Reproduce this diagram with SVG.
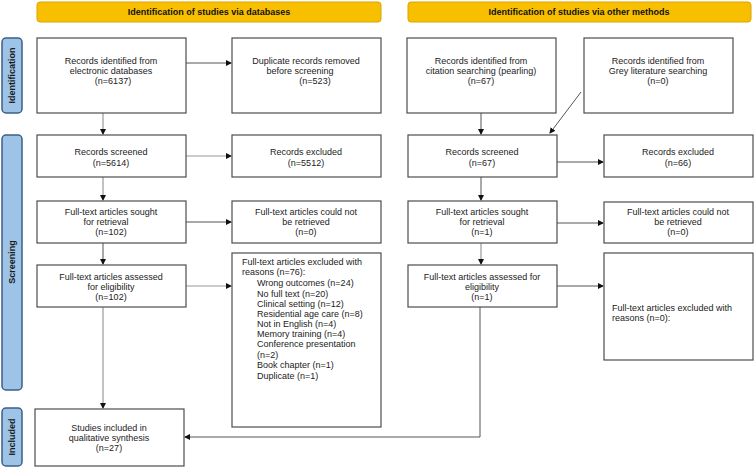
<svg xmlns="http://www.w3.org/2000/svg" width="754" height="469" viewBox="0 0 754 469">
<style>
  .box { fill: #ffffff; stroke: #4d4d4d; stroke-width: 1.2; }
  .hdr { fill: #f8bf00; stroke: #d9a400; stroke-width: 1; }
  .side { fill: #9dc3e6; stroke: #3b5f8a; stroke-width: 1.5; }
  .t { font-family: "Liberation Sans", Arial, sans-serif; font-size: 9px; fill: #222; }
  .c { text-anchor: middle; }
  .hb { font-family: "Liberation Sans", Arial, sans-serif; font-size: 9px; font-weight: bold; fill: #111; text-anchor: middle; }
  .sb { font-family: "Liberation Sans", Arial, sans-serif; font-size: 9px; font-weight: bold; fill: #1a1a1a; text-anchor: middle; }
  .ln { fill: none; stroke: #555; stroke-width: 1; }
  .lg { fill: none; stroke: #999; stroke-width: 1.2; }
</style>
<defs>
  <marker id="ah" markerWidth="6" markerHeight="6" refX="5" refY="3" orient="auto" markerUnits="userSpaceOnUse">
    <path d="M0,0 L6,3 L0,6 Z" fill="#111"/>
  </marker>
</defs>

<g id="header-databases">
  <rect class="hdr" x="37" y="2" width="344" height="20" rx="3"/>
  <text class="hb" x="209" y="15">Identification of studies via databases</text>
</g>
<g id="header-other">
  <rect class="hdr" x="408" y="2" width="343" height="20" rx="3"/>
  <text class="hb" x="579" y="15">Identification of studies via other methods</text>
</g>

<g id="side-identification">
  <rect class="side" x="2" y="38" width="20" height="75" rx="4"/>
  <text class="sb" transform="translate(15,75.5) rotate(-90)">Identification</text>
</g>
<g id="side-screening">
  <rect class="side" x="2" y="135" width="20" height="255" rx="4"/>
  <text class="sb" transform="translate(15,262) rotate(-90)">Screening</text>
</g>
<g id="side-included">
  <rect class="side" x="2" y="408" width="20" height="58" rx="4"/>
  <text class="sb" transform="translate(15,437) rotate(-90)">Included</text>
</g>

<g id="connectors">
  <line class="ln" x1="186" y1="63" x2="231" y2="63" marker-end="url(#ah)"/>
  <line class="lg" x1="103" y1="113" x2="103" y2="134" marker-end="url(#ah)"/>
  <line class="lg" x1="186" y1="156" x2="231" y2="156" marker-end="url(#ah)"/>
  <line class="lg" x1="103" y1="177" x2="103" y2="200" marker-end="url(#ah)"/>
  <line class="ln" x1="186" y1="222" x2="231" y2="222" marker-end="url(#ah)"/>
  <line class="ln" x1="103" y1="243" x2="103" y2="264" marker-end="url(#ah)"/>
  <line class="lg" x1="186" y1="286" x2="231" y2="286" marker-end="url(#ah)"/>
  <line class="lg" x1="103" y1="307" x2="103" y2="408" marker-end="url(#ah)"/>

  <line class="ln" x1="481" y1="113" x2="481" y2="134" marker-end="url(#ah)"/>
  <line class="ln" x1="581" y1="92" x2="550" y2="133" marker-end="url(#ah)"/>
  <line class="ln" x1="557" y1="162" x2="603" y2="162" marker-end="url(#ah)"/>
  <line class="ln" x1="481" y1="177" x2="481" y2="200" marker-end="url(#ah)"/>
  <line class="ln" x1="557" y1="223" x2="603" y2="223" marker-end="url(#ah)"/>
  <line class="lg" x1="481" y1="243" x2="481" y2="264" marker-end="url(#ah)"/>
  <line class="ln" x1="557" y1="286" x2="603" y2="286" marker-end="url(#ah)"/>
  <polyline class="ln" points="480,307 480,437 185,437" marker-end="url(#ah)"/>
</g>

<g id="n-db-identified">
  <rect class="box" x="37" y="38" width="149" height="75"/>
  <text class="t c" x="111" y="64">Records identified from</text>
  <text class="t c" x="111" y="74">electronic databases</text>
  <text class="t c" x="113" y="84">(n=6137)</text>
</g>
<g id="n-duplicates">
  <rect class="box" x="232" y="38" width="149" height="75"/>
  <text class="t c" x="306" y="64">Duplicate records removed</text>
  <text class="t c" x="300" y="74">before screening</text>
  <text class="t c" x="315" y="84">(n=523)</text>
</g>
<g id="n-citation">
  <rect class="box" x="407" y="38" width="149" height="75"/>
  <text class="t c" x="481" y="64">Records identified from</text>
  <text class="t c" x="481" y="74">citation searching (pearling)</text>
  <text class="t c" x="481" y="84">(n=67)</text>
</g>
<g id="n-grey">
  <rect class="box" x="584" y="38" width="149" height="75"/>
  <text class="t c" x="658" y="64">Records identified from</text>
  <text class="t c" x="658" y="74">Grey literature searching</text>
  <text class="t c" x="658" y="84">(n=0)</text>
</g>

<g id="n-db-screened">
  <rect class="box" x="37" y="135" width="149" height="42"/>
  <text class="t c" x="111" y="155">Records screened</text>
  <text class="t c" x="111" y="166">(n=5614)</text>
</g>
<g id="n-db-excluded">
  <rect class="box" x="232" y="135" width="149" height="42"/>
  <text class="t c" x="306" y="155">Records excluded</text>
  <text class="t c" x="306" y="166">(n=5512)</text>
</g>
<g id="n-db-sought">
  <rect class="box" x="37" y="201" width="149" height="42"/>
  <text class="t c" x="111" y="215">Full-text articles sought</text>
  <text class="t c" x="106" y="225">for retrieval</text>
  <text class="t c" x="111" y="235">(n=102)</text>
</g>
<g id="n-db-notretrieved">
  <rect class="box" x="232" y="201" width="149" height="42"/>
  <text class="t c" x="306" y="215">Full-text articles could not</text>
  <text class="t c" x="306" y="225">be retrieved</text>
  <text class="t c" x="306" y="235">(n=0)</text>
</g>
<g id="n-db-assessed">
  <rect class="box" x="37" y="265" width="149" height="42"/>
  <text class="t c" x="111" y="280">Full-text articles assessed</text>
  <text class="t c" x="111" y="290">for eligibility</text>
  <text class="t c" x="111" y="300">(n=102)</text>
</g>
<g id="n-db-excludedreasons">
  <rect class="box" x="232" y="253" width="149" height="174"/>
  <text class="t" x="242" y="265">Full-text articles excluded with</text>
  <text class="t" x="242" y="275">reasons (n=76):</text>
  <text class="t" x="257" y="286">Wrong outcomes (n=24)</text>
  <text class="t" x="257" y="297">No full text (n=20)</text>
  <text class="t" x="257" y="307">Clinical setting (n=12)</text>
  <text class="t" x="257" y="317">Residential age care (n=8)</text>
  <text class="t" x="257" y="327">Not in English (n=4)</text>
  <text class="t" x="257" y="337">Memory training (n=4)</text>
  <text class="t" x="257" y="347">Conference presentation</text>
  <text class="t" x="257" y="358">(n=2)</text>
  <text class="t" x="257" y="368">Book chapter (n=1)</text>
  <text class="t" x="257" y="379">Duplicate (n=1)</text>
</g>

<g id="n-oth-screened">
  <rect class="box" x="408" y="135" width="149" height="42"/>
  <text class="t c" x="482" y="155">Records screened</text>
  <text class="t c" x="482" y="166">(n=67)</text>
</g>
<g id="n-oth-excluded">
  <rect class="box" x="604" y="135" width="149" height="42"/>
  <text class="t c" x="678" y="155">Records excluded</text>
  <text class="t c" x="678" y="166">(n=66)</text>
</g>
<g id="n-oth-sought">
  <rect class="box" x="408" y="201" width="149" height="42"/>
  <text class="t c" x="482" y="215">Full-text articles sought</text>
  <text class="t c" x="482" y="225">for retrieval</text>
  <text class="t c" x="482" y="235">(n=1)</text>
</g>
<g id="n-oth-notretrieved">
  <rect class="box" x="604" y="202" width="149" height="41"/>
  <text class="t c" x="678" y="215">Full-text articles could not</text>
  <text class="t c" x="678" y="225">be retrieved</text>
  <text class="t c" x="678" y="235">(n=0)</text>
</g>
<g id="n-oth-assessed">
  <rect class="box" x="408" y="265" width="149" height="42"/>
  <text class="t c" x="482" y="280">Full-text articles assessed for</text>
  <text class="t c" x="482" y="290">eligibility</text>
  <text class="t c" x="482" y="300">(n=1)</text>
</g>
<g id="n-oth-excludedreasons">
  <rect class="box" x="604" y="253" width="149" height="107"/>
  <text class="t" x="612" y="311">Full-text articles excluded with</text>
  <text class="t" x="612" y="321">reasons (n=0):</text>
</g>

<g id="n-included">
  <rect class="box" x="35" y="409" width="149" height="57"/>
  <text class="t c" x="109" y="431">Studies included in</text>
  <text class="t c" x="109" y="441">qualitative synthesis</text>
  <text class="t c" x="109" y="451">(n=27)</text>
</g>
</svg>
